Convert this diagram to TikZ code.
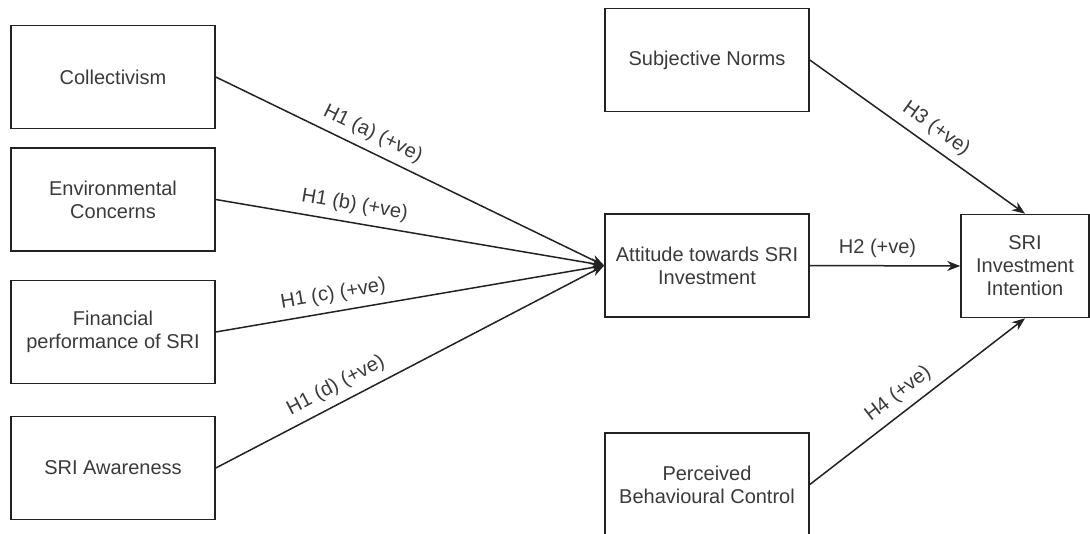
\documentclass[tikz,border=0pt]{standalone}
\usepackage{fontspec}
\setmainfont{Liberation Sans}
\usepackage{xcolor}
\usetikzlibrary{positioning,arrows.meta}
\definecolor{inkline}{HTML}{222222}
\definecolor{inktext}{HTML}{3a3a3a}

\begin{document}
\begin{tikzpicture}[x=1pt, y=-1pt,
  box/.style={draw=inkline, line width=1.6pt, minimum width=204pt, minimum height=103pt,
    align=center, text=inktext, font=\fontsize{20}{23}\selectfont},
  hyp/.style={draw=inkline, line width=1.5pt, -{Stealth[length=13pt, width=10pt]}},
  hlabel/.style={sloped, above=4pt, text=inktext, font=\fontsize{20}{23}\selectfont}]
  \useasboundingbox (0,0) rectangle (1090,533);
  \clip (0,0) rectangle (1090,533);

  % Antecedents of attitude
  \node[box] (coll) at (113, 77) {Collectivism};
  \node[box] (envC) at (113, 199.5) {Environmental\\Concerns};
  \node[box] (finP) at (113, 332) {Financial\\performance of SRI};
  \node[box] (awareSRI) at (113, 468) {SRI Awareness};

  % Middle column
  \node[box] (subjN) at (707, 60) {Subjective Norms};
  \node[box] (attSRI) at (707, 265.5) {Attitude towards SRI\\Investment};
  \node[box] (pbc) at (707, 484.5) {Perceived\\Behavioural Control};

  % Outcome
  \node[box, minimum width=128pt] (intSRI) at (1025, 266) {SRI\\Investment\\Intention};

  % H1 paths
  \draw[hyp] (coll.east) -- node[hlabel, pos=0.385] {H1 (a) (+ve)} (attSRI.west);
  \draw[hyp] (envC.east) -- node[hlabel, pos=0.35] {H1 (b) (+ve)} (attSRI.west);
  \draw[hyp] (finP.east) -- node[hlabel, pos=0.31] {H1 (c) (+ve)} (attSRI.west);
  \draw[hyp] (awareSRI.east) -- node[hlabel, pos=0.33] {H1 (d) (+ve)} (attSRI.west);

  % H2 - H4
  \draw[hyp] (attSRI.east) -- node[hlabel, pos=0.45] {H2 (+ve)} (intSRI.west);
  \draw[hyp] (subjN.east) -- node[hlabel, pos=0.54] {H3 (+ve)} (intSRI.north);
  \draw[hyp] (pbc.east) -- node[hlabel, pos=0.46] {H4 (+ve)} (intSRI.south);
\end{tikzpicture}
\end{document}
